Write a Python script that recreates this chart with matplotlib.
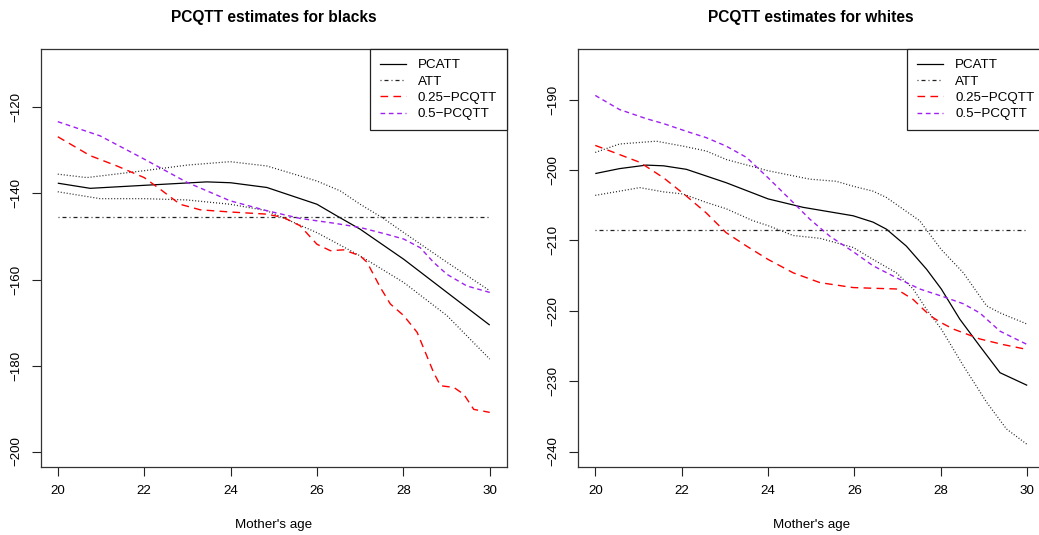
import matplotlib
matplotlib.use("Agg")
import matplotlib.pyplot as plt
from matplotlib.lines import Line2D

plt.rcParams['font.family'] = ['Liberation Sans', 'DejaVu Sans']

# ---------------- data: blacks ----------------
b_pcatt_x = [20, 20.75, 22, 23.45, 24, 24.84, 26, 26.46, 27, 28.01, 29.01, 30]
b_pcatt_y = [-137.6, -138.8, -138.1, -137.3, -137.5, -138.6, -142.5, -145.2, -148.3, -155.3, -163.0, -170.6]

b_up_x = [20, 20.67, 22, 22.99, 23.99, 24.84, 26, 26.54, 27, 27.54, 28.01, 29.01, 30]
b_up_y = [-135.5, -136.3, -134.7, -133.4, -132.6, -133.6, -137.1, -139.4, -142.5, -145.8, -149.1, -156.0, -162.6]

b_lo_x = [20, 20.98, 22, 22.99, 23.99, 24.84, 26, 27, 28.01, 29.01, 30]
b_lo_y = [-139.6, -141.2, -141.2, -141.5, -142.5, -144.0, -149.1, -154.5, -160.7, -168.4, -178.5]

b_att = -145.4

b_q25_x = [20, 20.75, 21.37, 22, 22.37, 22.83, 23.3, 23.99, 24.84, 25.23, 25.61, 26, 26.31, 26.62,
           27, 27.16, 27.47, 27.7, 28.01, 28.32, 28.7, 28.86, 29.17, 29.4, 29.63, 30]
b_q25_y = [-126.8, -131.2, -133.6, -136.3, -139.0, -142.5, -143.8, -144.3, -144.8, -145.6, -147.5, -151.8,
           -153.3, -153.1, -154.5, -156.0, -161.9, -165.7, -168.4, -172.3, -181.6, -184.7, -185.1, -186.7,
           -190.2, -190.9]

b_q50_x = [20, 20.98, 22, 22.99, 23.99, 24.84, 25.61, 26.39, 27, 27.62, 28.01, 28.39, 28.7, 29.01, 29.47, 30]
b_q50_y = [-123.3, -126.6, -132.0, -137.4, -141.7, -144.0, -145.8, -146.9, -147.9, -149.5, -150.6, -152.6,
           -156.0, -158.8, -161.5, -163.0]

# ---------------- data: whites ----------------
w_pcatt_x = [20, 20.56, 21.18, 21.58, 22.11, 23.03, 24, 24.81, 25.97, 26.43, 26.74, 27.2, 27.67, 28.01,
             28.44, 28.9, 29.37, 30]
w_pcatt_y = [-200.5, -199.8, -199.3, -199.4, -199.9, -201.8, -204.1, -205.3, -206.5, -207.4, -208.4, -210.8,
             -214.1, -216.9, -221.2, -225.0, -228.8, -230.6]

w_up_x = [20, 20.56, 21.41, 22.03, 22.57, 23.03, 24, 24.97, 25.58, 25.97, 26.43, 26.74, 27.51, 28.01,
          28.52, 29.06, 29.37, 30]
w_up_y = [-197.5, -196.3, -195.9, -196.6, -197.3, -198.5, -200.1, -201.3, -201.6, -202.3, -203.0, -203.9,
          -207.2, -211.3, -214.6, -219.3, -220.3, -221.9]

w_lo_x = [20, 20.56, 21.03, 21.58, 22.03, 22.57, 23.03, 23.65, 24, 24.58, 25.2, 25.97, 26.43, 26.97,
          27.36, 27.67, 28.01, 28.52, 29.06, 29.52, 30]
w_lo_y = [-203.6, -203.0, -202.5, -203.1, -203.4, -204.6, -205.5, -207.2, -207.9, -209.3, -209.7, -211.0,
          -212.7, -214.6, -216.9, -219.8, -222.6, -227.8, -233.0, -236.8, -239.0]

w_att = -208.5

w_q25_x = [20, 20.56, 21.03, 21.58, 22.11, 22.57, 23.03, 23.5, 24, 24.58, 25.2, 25.97, 26.43, 26.97,
           27.36, 27.75, 28.01, 28.29, 28.9, 29.44, 30]
w_q25_y = [-196.5, -197.8, -198.9, -201.1, -203.7, -206.1, -208.9, -210.8, -212.7, -214.6, -216.0, -216.7,
           -216.8, -216.9, -218.4, -220.7, -221.7, -222.6, -224.0, -224.8, -225.5]

w_q50_x = [20, 20.56, 21.18, 21.58, 22.11, 22.57, 23.03, 23.5, 24, 24.58, 24.97, 25.43, 25.97, 26.43,
           26.97, 27.51, 28.01, 28.52, 28.9, 29.37, 30]
w_q50_y = [-189.4, -191.4, -192.7, -193.4, -194.5, -195.4, -196.6, -198.2, -201.1, -204.6, -207.0, -209.4,
           -211.6, -213.6, -215.3, -216.9, -217.9, -219.0, -220.3, -222.9, -224.8]

titles = ["PCQTT estimates for blacks", "PCQTT estimates for whites"]
xlabel = "Mother's age"
legend_labels = ["PCATT", "ATT", "0.25\u2212PCQTT", "0.5\u2212PCQTT"]
xticks = [20, 22, 24, 26, 28, 30]
b_yticks = [-200, -180, -160, -140, -120]
w_yticks = [-240, -230, -220, -210, -200, -190]

# ---------------- figure ----------------
W, H = 1039, 535
fig = plt.figure(figsize=(W / 100, H / 100), dpi=100)

def frac_rect(x0, x1, ytop, ybot):
    return [x0 / W, (H - ybot) / H, (x1 - x0) / W, (ybot - ytop) / H]

ax1 = fig.add_axes(frac_rect(40.5, 507, 49, 467))
ax2 = fig.add_axes(frac_rect(578, 1044.5, 49, 467))

RED_DASH = (0, (5.5, 3.8))
PUR_DASH = (0, (3.4, 2.6))
ATT_DASH = (0, (0.8, 2.4, 3.2, 2.4))
DOT = (0, (0.8, 1.6))
FS = 9.6

def style_panel(ax, yticks, ylim, title, data):
    (px, py), (ux, uy), (lx, ly), att, (q25x, q25y), (q50x, q50y) = data
    ax.plot(px, py, color='black', lw=0.9, solid_capstyle='butt')
    ax.plot(ux, uy, color='#222222', lw=0.9, linestyle=DOT)
    ax.plot(lx, ly, color='#222222', lw=0.9, linestyle=DOT)
    ax.plot([xticks[0], xticks[-1]], [att, att], color='#222222', lw=0.9, linestyle=ATT_DASH)
    ax.plot(q25x, q25y, color='#ff0000', lw=1.0, linestyle=RED_DASH)
    ax.plot(q50x, q50y, color='#a020f0', lw=1.0, linestyle=PUR_DASH)

    pad = 0.04 * (xticks[-1] - xticks[0])
    ax.set_xlim(xticks[0] - pad, xticks[-1] + pad)
    ypad = 0.04 * (ylim[1] - ylim[0])
    ax.set_ylim(ylim[0] - ypad, ylim[1] + ypad)
    ax.set_xticks(xticks)
    ax.set_yticks(yticks)
    ax.set_yticklabels([str(v).replace('-', '\u2212') for v in yticks])
    ax.set_xticklabels([str(v) for v in xticks])
    ax.tick_params(axis='both', direction='out', length=6.3, width=0.8, colors='#222222',
                   labelsize=FS, labelcolor='black', pad=7)
    ax.tick_params(axis='y', labelrotation=90)
    for lab in ax.get_yticklabels():
        lab.set_va('center')
    for s in ax.spines.values():
        s.set_color('#333333')
        s.set_linewidth(0.9)

    handles = [
        Line2D([], [], color='black', lw=0.9),
        Line2D([], [], color='#222222', lw=0.9, linestyle=ATT_DASH),
        Line2D([], [], color='#ff0000', lw=1.0, linestyle=RED_DASH),
        Line2D([], [], color='#a020f0', lw=1.0, linestyle=PUR_DASH),
    ]
    leg = ax.legend(handles, legend_labels, loc='upper right', bbox_to_anchor=(1, 1),
                    borderaxespad=0, frameon=True, fancybox=False, fontsize=FS,
                    handlelength=1.95, handletextpad=0.9, labelspacing=0.3,
                    borderpad=0.75, framealpha=1)
    leg.get_frame().set_edgecolor('#222222')
    leg.get_frame().set_linewidth(0.9)

style_panel(ax1, b_yticks, (-200, -110), titles[0],
            ((b_pcatt_x, b_pcatt_y), (b_up_x, b_up_y), (b_lo_x, b_lo_y), b_att,
             (b_q25_x, b_q25_y), (b_q50_x, b_q50_y)))
style_panel(ax2, w_yticks, (-240, -185), titles[1],
            ((w_pcatt_x, w_pcatt_y), (w_up_x, w_up_y), (w_lo_x, w_lo_y), w_att,
             (w_q25_x, w_q25_y), (w_q50_x, w_q50_y)))

# titles and x labels
for ax, t in ((ax1, titles[0]), (ax2, titles[1])):
    bb = ax.get_position()
    cx = bb.x0 + bb.width / 2
    fig.text(cx, 1 - 17.5 / H, t, ha='center', va='center', fontsize=11.2, fontweight='bold')
    fig.text(cx, 1 - 525 / H, xlabel, ha='center', va='center', fontsize=FS)

fig.savefig("out.png", dpi=100)
